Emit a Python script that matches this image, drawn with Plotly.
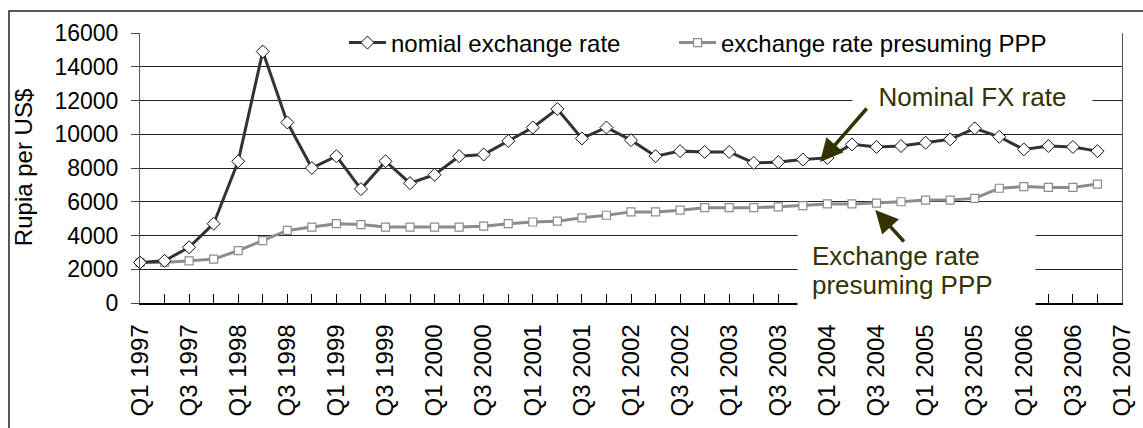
import plotly.graph_objects as go

# ---- data ----
quarters = [f"Q{q} {y}" for y in range(1997, 2007) for q in (1, 2, 3, 4)] + ["Q1 2007"]
periods = quarters[:40]

nominal = [2400, 2500, 3300, 4700, 8400, 14900, 10700, 8000, 8700, 6750,
           8400, 7100, 7600, 8700, 8800, 9600, 10400, 11500, 9750, 10400,
           9650, 8700, 9000, 8950, 8950, 8300, 8350, 8500, 8600, 9400,
           9250, 9300, 9500, 9700, 10350, 9850, 9100, 9300, 9250, 9000]

ppp = [2400, 2400, 2500, 2600, 3100, 3700, 4300, 4500, 4700, 4650,
       4500, 4500, 4500, 4500, 4550, 4700, 4800, 4850, 5050, 5200,
       5400, 5400, 5500, 5650, 5650, 5650, 5700, 5770, 5870, 5870,
       5920, 6000, 6100, 6100, 6200, 6800, 6900, 6850, 6850, 7050]

tick_text = [q if q.startswith(("Q1", "Q3")) else "" for q in quarters]
y_ticks = [0, 2000, 4000, 6000, 8000, 10000, 12000, 14000, 16000]

FONT = "Liberation Sans, Arial, sans-serif"
OLIVE = "#333300"

fig = go.Figure()
fig.add_trace(go.Scatter(
    x=periods, y=ppp, mode="lines+markers", name="exchange rate presuming PPP",
    line=dict(color="#8c8c8c", width=3),
    marker=dict(symbol="square", size=8, color="white", line=dict(color="#8c8c8c", width=1.2)),
    cliponaxis=False, legend="legend2"))
fig.add_trace(go.Scatter(
    x=periods, y=nominal, mode="lines+markers", name="nomial exchange rate",
    line=dict(color="#333333", width=3),
    marker=dict(symbol="diamond", size=10, color="white", line=dict(color="#111111", width=1)),
    cliponaxis=False, legend="legend"))

leg_common = dict(orientation="h", xanchor="left", y=0.963, yanchor="middle",
                  bgcolor="rgba(255,255,255,0)", font=dict(size=24), itemwidth=37, borderwidth=0)

fig.update_layout(
    width=1143, height=428,
    margin=dict(l=140, r=21, t=33, b=125),
    paper_bgcolor="white", plot_bgcolor="white",
    font=dict(family=FONT, color="black"),
    showlegend=True,
    legend=dict(x=0.2077, **leg_common),
    legend2=dict(x=0.5438, **leg_common),
)

fig.update_xaxes(
    type="category", categoryorder="array", categoryarray=quarters,
    range=[0, 40], tickmode="array", tickvals=quarters, ticktext=tick_text,
    tickangle=-90, tickfont=dict(size=24), ticks="inside", ticklen=9,
    tickcolor="black", showline=True, linecolor="black", linewidth=1.5,
    showgrid=False, zeroline=False, ticklabelstandoff=10, automargin=False)

fig.update_yaxes(
    range=[0, 16000], tickmode="array", tickvals=y_ticks, tickformat="d",
    ticks="outside", ticklen=8,
    tickcolor="#444", tickfont=dict(size=23), showgrid=True, gridcolor="#222",
    gridwidth=1, showline=True, linecolor="#555", linewidth=1, mirror=True,
    zeroline=False, ticklabelstandoff=8, automargin=False)

# white band behind the legend (hides the top gridline)
fig.add_shape(type="rect", xref="paper", yref="paper",
              x0=0.1843, x1=0.9582, y0=0.90, y1=1.033,
              line=dict(width=0), fillcolor="white", layer="above")

fig.add_annotation(xref="paper", yref="paper", x=-0.119, y=0.5, text="Rupia per US$",
                   textangle=-90, showarrow=False, font=dict(size=24), xanchor="center", yanchor="middle")

fig.add_annotation(x=33.9, y=12207, text="Nominal FX rate", showarrow=False,
                   font=dict(size=26, color=OLIVE), bgcolor="white", width=231, borderpad=4)

# white box for the PPP label
fig.add_annotation(x=31.63, y=2252, text=" ", showarrow=False, bgcolor="white",
                   width=235, height=86, borderpad=1)
fig.add_annotation(x=27.29, y=2785, text="Exchange rate", showarrow=False, xanchor="left",
                   yanchor="middle", font=dict(size=26, color=OLIVE))
fig.add_annotation(x=27.29, y=1067, text="presuming PPP", showarrow=False, xanchor="left",
                   yanchor="middle", font=dict(size=26, color=OLIVE))

fig.add_annotation(x=27.7, y=8356, ax=48, ay=-55, text="", showarrow=True,
                   arrowhead=2, arrowsize=1.3, arrowwidth=3.5, arrowcolor=OLIVE)
fig.add_annotation(x=29.95, y=5511, ax=30, ay=33, text="", showarrow=True,
                   arrowhead=2, arrowsize=1.3, arrowwidth=3.5, arrowcolor=OLIVE)

fig.add_shape(type="rect", xref="paper", yref="paper",
              x0=-0.1334, x1=1.03, y0=-0.48, y1=1.0815,
              line=dict(color="#222", width=1.5), fillcolor="rgba(0,0,0,0)", layer="above")

fig.write_html("out.html")
